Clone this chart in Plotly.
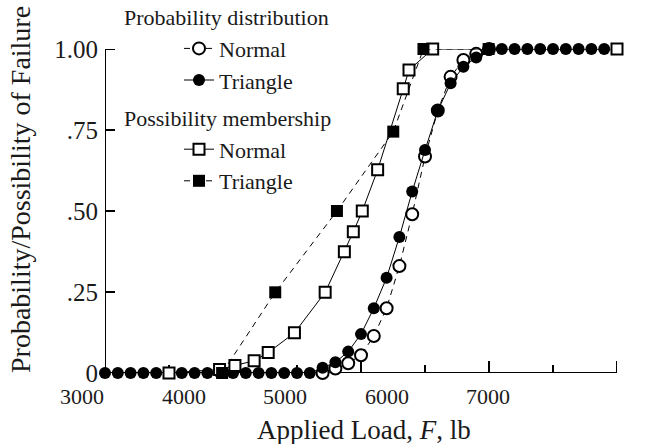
import plotly.graph_objects as go

FONT = "Liberation Serif, Times New Roman, serif"
INK = "#1a1a1a"

# ---- data ----
# Probability distribution, Normal (open circles, dashed)
prob_normal_x = [4700, 4800, 4900, 5000, 5100, 5200, 5300, 5400, 5500, 5600, 5700, 5800, 5900, 6000]
prob_normal_y = [0.0, 0.014, 0.03, 0.055, 0.114, 0.20, 0.33, 0.49, 0.668, 0.81, 0.914, 0.966, 0.985, 1.0]

# Probability distribution, Triangle (filled circles, solid)
prob_tri_x = [3000, 3100, 3200, 3300, 3400, 3500, 3600, 3700, 3800, 3900,
              4000, 4100, 4200, 4300, 4400, 4500, 4600, 4700, 4800, 4900,
              5000, 5100, 5200, 5300, 5400, 5500, 5600, 5700, 5800, 5900,
              6000, 6100, 6200, 6300, 6400, 6500, 6600, 6700, 6800, 6900]
prob_tri_y = [0, 0, 0, 0, 0, 0, 0, 0, 0, 0,
              0, 0, 0, 0, 0, 0, 0, 0.016, 0.033, 0.066,
              0.12, 0.20, 0.294, 0.42, 0.56, 0.688, 0.81, 0.894, 0.945, 0.974,
              0.997, 1, 1, 1, 1, 1, 1, 1, 1, 1]

# Possibility membership, Normal (open squares, solid)
poss_normal_x = [3500, 3895, 4015, 4165, 4275, 4480, 4720, 4870, 4940, 5010, 5130, 5330, 5375, 5560, 7000]
poss_normal_y = [0.0, 0.011, 0.023, 0.038, 0.063, 0.124, 0.249, 0.374, 0.436, 0.50, 0.627, 0.877, 0.935, 1.0, 1.0]

# Possibility membership, Triangle (filled squares, dashed)
poss_tri_x = [3915, 4330, 4812, 5252, 5488, 5997]
poss_tri_y = [0.0, 0.249, 0.50, 0.745, 1.0, 1.0]

# axis ticks / labels
x_range = [3000, 7000]
y_range = [0, 1]
x_tick_vals = [3000, 4000, 5000, 6000, 7000]
x_minor_vals = [3500, 4500, 5500, 6500]
x_tick_text = ["3000", "4000", "5000", "6000", "7000"]
y_tick_vals = [0, 0.25, 0.5, 0.75, 1.0]
y_tick_text = ["0", ".25", ".50", ".75", "1.00"]

# ---- layout geometry (pixels) ----
W, H = 661, 444
PLOT_L, PLOT_R, PLOT_T, PLOT_B = 105, 617, 49, 373   # axes box
plot_w = PLOT_R - PLOT_L
plot_h = PLOT_B - PLOT_T

def px_to_paper_x(px):
    return (px - PLOT_L) / plot_w

def px_to_paper_y(py):
    return (PLOT_B - py) / plot_h

# In the reference the x tick labels sit left of their ticks (3000 at px 82, 101.5 px per 1000)
LBL_PX0, LBL_PX_PER_1000 = 82, 101.5
LBL_Y = 396

fig = go.Figure()

dash = "6px,5px"
fig.add_trace(go.Scatter(
    x=prob_normal_x, y=prob_normal_y, mode="lines+markers", name="Normal",
    legendgroup="prob", legendgrouptitle=dict(text="Probability distribution"),
    line=dict(color="black", width=1, dash=dash),
    marker=dict(symbol="circle", size=12, color="white", line=dict(color="black", width=2)),
    cliponaxis=False))
fig.add_trace(go.Scatter(
    x=prob_tri_x, y=prob_tri_y, mode="lines+markers", name="Triangle",
    legendgroup="prob",
    line=dict(color="black", width=1),
    marker=dict(symbol="circle", size=12, color="black", line=dict(color="black", width=0)),
    cliponaxis=False))
fig.add_trace(go.Scatter(
    x=poss_normal_x, y=poss_normal_y, mode="lines+markers", name="Normal",
    legendgroup="poss", legendgrouptitle=dict(text="Possibility membership"),
    line=dict(color="black", width=1),
    marker=dict(symbol="square", size=11, color="white", line=dict(color="black", width=2)),
    cliponaxis=False))
fig.add_trace(go.Scatter(
    x=poss_tri_x, y=poss_tri_y, mode="lines+markers", name="Triangle",
    legendgroup="poss",
    line=dict(color="black", width=1, dash=dash),
    marker=dict(symbol="square", size=12, color="black", line=dict(color="black", width=0)),
    cliponaxis=False))

# axis frame and ticks, positioned through the data axes
AX = dict(color="black", width=2)
shapes = [
    dict(type="line", xref="x", yref="y", x0=x_range[0], x1=x_range[1], y0=y_range[0], y1=y_range[0],
         line=AX, layer="below"),
    dict(type="line", xref="x", yref="y", x0=x_range[0], x1=x_range[0], y0=y_range[0], y1=y_range[1],
         line=AX, layer="below"),
]
for v in x_tick_vals:
    shapes.append(dict(type="line", xref="x", yref="y", ysizemode="pixel", yanchor=y_range[0],
                       x0=v, x1=v, y0=0, y1=12, line=AX, layer="below"))
for v in x_minor_vals:
    shapes.append(dict(type="line", xref="x", yref="y", ysizemode="pixel", yanchor=y_range[0],
                       x0=v, x1=v, y0=0, y1=8, line=AX, layer="below"))
for v in y_tick_vals:
    shapes.append(dict(type="line", xref="x", yref="y", xsizemode="pixel", xanchor=x_range[0],
                       x0=0, x1=10, y0=v, y1=v, line=AX, layer="below"))

annotations = [
    dict(text=t, xref="paper", yref="paper",
         x=px_to_paper_x(LBL_PX0 + (v - x_tick_vals[0]) / 1000 * LBL_PX_PER_1000),
         y=px_to_paper_y(LBL_Y), xanchor="center", yanchor="middle", showarrow=False,
         font=dict(family=FONT, size=22, color=INK))
    for v, t in zip(x_tick_vals, x_tick_text)
]
annotations += [
    dict(text="Probability/Possibility of Failure", textangle=-90,
         xref="paper", yref="paper", x=px_to_paper_x(20), y=px_to_paper_y(190),
         xanchor="center", yanchor="middle", showarrow=False,
         font=dict(family=FONT, size=28, color=INK)),
    dict(text="Applied Load, <i>F</i>, lb",
         xref="paper", yref="paper", x=px_to_paper_x(364), y=px_to_paper_y(430),
         xanchor="center", yanchor="middle", showarrow=False,
         font=dict(family=FONT, size=27, color=INK)),
]

fig.update_layout(
    width=W, height=H,
    margin=dict(l=PLOT_L, r=W - PLOT_R, t=PLOT_T, b=H - PLOT_B, pad=0, autoexpand=False),
    paper_bgcolor="white", plot_bgcolor="rgba(0,0,0,0)",
    font=dict(family=FONT, color=INK, size=22),
    showlegend=True,
    legend=dict(
        x=px_to_paper_x(119), y=px_to_paper_y(-4),
        xanchor="left", yanchor="top",
        bgcolor="rgba(0,0,0,0)", borderwidth=0,
        font=dict(family=FONT, size=22, color=INK),
        grouptitlefont=dict(family=FONT, size=22, color=INK),
        traceorder="grouped", tracegroupgap=6,
        indentation=60, itemwidth=30, maxheight=1,
    ),
    xaxis=dict(
        range=x_range, automargin=False,
        showgrid=False, zeroline=False, showline=False,
        ticks="", tickmode="array", tickvals=x_tick_vals, showticklabels=False,
    ),
    yaxis=dict(
        range=y_range, automargin=False,
        showgrid=False, zeroline=False, showline=False,
        ticks="", tickmode="array", tickvals=y_tick_vals, ticktext=y_tick_text,
        tickfont=dict(family=FONT, size=25, color=INK),
        ticklabelstandoff=6,
    ),
    shapes=shapes,
    annotations=annotations,
)

fig.write_html("out.html", config={"displayModeBar": False},
               post_script="document.body.style.margin='0px';")
